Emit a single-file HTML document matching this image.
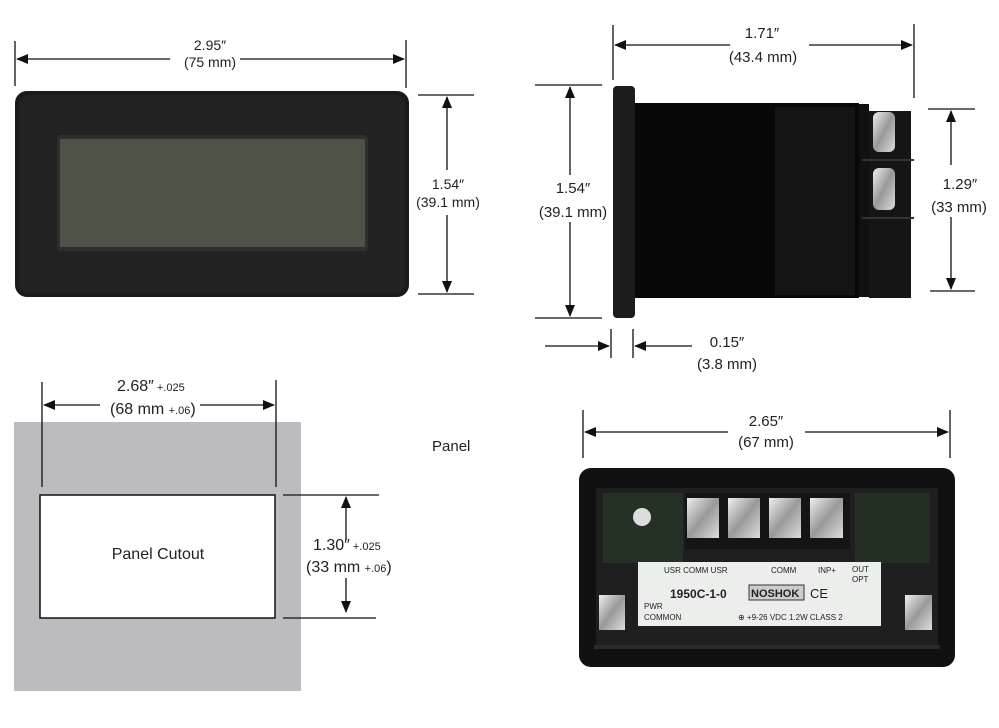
<!DOCTYPE html>
<html><head><meta charset="utf-8"><style>
html,body{margin:0;padding:0;background:#fff;}
svg{display:block;}
text{font-family:"Liberation Sans",sans-serif;fill:#222;}
</style></head><body>
<svg width="999" height="728" viewBox="0 0 999 728" xmlns="http://www.w3.org/2000/svg">
<defs>
<marker id="a" markerWidth="12" markerHeight="10" refX="11" refY="5" orient="auto" markerUnits="userSpaceOnUse"><path d="M0,0 L12,5 L0,10 z" fill="#111"/></marker>
<linearGradient id="scr" x1="0" y1="0" x2="1" y2="1"><stop offset="0" stop-color="#eee"/><stop offset="0.5" stop-color="#999"/><stop offset="1" stop-color="#ddd"/></linearGradient>
</defs>
<g stroke="#111" stroke-width="1.3" fill="none">
<!-- front view dims -->
<line x1="15" y1="41" x2="15" y2="86"/><line x1="406" y1="40" x2="406" y2="88"/>
<line x1="170" y1="59" x2="17" y2="59" marker-end="url(#a)"/><line x1="240" y1="59" x2="404" y2="59" marker-end="url(#a)"/>
<line x1="418" y1="95" x2="474" y2="95"/><line x1="418" y1="294" x2="474" y2="294"/>
<line x1="447" y1="170" x2="447" y2="97" marker-end="url(#a)"/><line x1="447" y1="215" x2="447" y2="292" marker-end="url(#a)"/>
<!-- side view dims -->
<line x1="613" y1="25" x2="613" y2="80"/><line x1="914" y1="24" x2="914" y2="98"/>
<line x1="730" y1="45" x2="615" y2="45" marker-end="url(#a)"/><line x1="809" y1="45" x2="912" y2="45" marker-end="url(#a)"/>
<line x1="535" y1="85" x2="602" y2="85"/><line x1="535" y1="318" x2="602" y2="318"/>
<line x1="570" y1="175" x2="570" y2="87" marker-end="url(#a)"/><line x1="570" y1="222" x2="570" y2="316" marker-end="url(#a)"/>
<line x1="928" y1="109" x2="975" y2="109"/><line x1="930" y1="291" x2="975" y2="291"/>
<line x1="951" y1="165" x2="951" y2="111" marker-end="url(#a)"/><line x1="951" y1="217" x2="951" y2="289" marker-end="url(#a)"/>
<line x1="611" y1="329" x2="611" y2="358"/><line x1="633" y1="329" x2="633" y2="358"/>
<line x1="545" y1="346" x2="609" y2="346" marker-end="url(#a)"/><line x1="692" y1="346" x2="635" y2="346" marker-end="url(#a)"/>
</g>
<!-- front bezel -->
<rect x="15" y="91" width="394" height="206" rx="12" fill="#1b1b1b"/>
<rect x="19" y="95" width="386" height="198" rx="10" fill="#222"/>
<rect x="57" y="135" width="311" height="116" rx="4" fill="#2f2f2f"/>
<rect x="60" y="139" width="305" height="108" fill="#4d5346"/>
<text x="210" y="50" font-size="14" text-anchor="middle">2.95″</text>
<text x="210" y="67" font-size="14" text-anchor="middle">(75 mm)</text>
<text x="448" y="189" font-size="14" text-anchor="middle">1.54″</text>
<text x="448" y="207" font-size="14" text-anchor="middle">(39.1 mm)</text>
<!-- side view -->
<rect x="613" y="86" width="22" height="232" rx="4" fill="#1c1c1c"/>
<rect x="635" y="103" width="224" height="195" fill="#080808"/>
<rect x="775" y="107" width="80" height="188" fill="#141414"/>
<rect x="859" y="104" width="10" height="193" fill="#111"/>
<rect x="869" y="111" width="42" height="187" fill="#151515"/>
<rect x="873" y="112" width="22" height="40" rx="6" fill="url(#scr)"/>
<rect x="873" y="168" width="22" height="42" rx="6" fill="url(#scr)"/>
<line x1="862" y1="160" x2="914" y2="160" stroke="#333" stroke-width="2"/>
<line x1="862" y1="218" x2="914" y2="218" stroke="#333" stroke-width="2"/>
<text x="762" y="38" font-size="15" text-anchor="middle">1.71″</text>
<text x="763" y="62" font-size="15" text-anchor="middle">(43.4 mm)</text>
<text x="573" y="193" font-size="15" text-anchor="middle">1.54″</text>
<text x="573" y="217" font-size="15" text-anchor="middle">(39.1 mm)</text>
<text x="960" y="189" font-size="15" text-anchor="middle">1.29″</text>
<text x="959" y="212" font-size="15" text-anchor="middle">(33 mm)</text>
<text x="727" y="347" font-size="15" text-anchor="middle">0.15″</text>
<text x="727" y="369" font-size="15" text-anchor="middle">(3.8 mm)</text>
<!-- panel -->
<rect x="14" y="422" width="287" height="269" fill="#bcbcc0"/>
<rect x="40" y="495" width="235" height="123" fill="#fff" stroke="#111" stroke-width="1.5"/>
<g stroke="#111" stroke-width="1.3" fill="none">
<line x1="42" y1="382" x2="42" y2="487"/><line x1="276" y1="380" x2="276" y2="487"/>
<line x1="100" y1="405" x2="44" y2="405" marker-end="url(#a)"/><line x1="200" y1="405" x2="274" y2="405" marker-end="url(#a)"/>
<line x1="283" y1="495" x2="379" y2="495"/><line x1="283" y1="618" x2="376" y2="618"/>
<line x1="346" y1="540" x2="346" y2="497" marker-end="url(#a)"/><line x1="346" y1="578" x2="346" y2="612" marker-end="url(#a)"/>
<line x1="583" y1="410" x2="583" y2="458"/><line x1="950" y1="410" x2="950" y2="458"/>
<line x1="728" y1="432" x2="585" y2="432" marker-end="url(#a)"/><line x1="805" y1="432" x2="948" y2="432" marker-end="url(#a)"/>
</g>
<text x="117" y="391" font-size="16">2.68″<tspan font-size="11"> +.025</tspan></text>
<text x="110" y="414" font-size="16">(68 mm <tspan font-size="11">+.06</tspan>)</text>
<text x="158" y="559" font-size="16" text-anchor="middle">Panel Cutout</text>
<text x="313" y="550" font-size="16">1.30″<tspan font-size="11"> +.025</tspan></text>
<text x="306" y="572" font-size="16">(33 mm <tspan font-size="11">+.06</tspan>)</text>
<text x="432" y="451" font-size="15">Panel</text>
<!-- back view -->
<text x="766" y="426" font-size="15" text-anchor="middle">2.65″</text>
<text x="766" y="447" font-size="15" text-anchor="middle">(67 mm)</text>
<rect x="579" y="468" width="376" height="199" rx="12" fill="#111"/>
<rect x="596" y="488" width="342" height="160" fill="#1f1f1f"/>
<rect x="603" y="493" width="80" height="70" fill="#263126"/>
<circle cx="642" cy="517" r="9" fill="#ddd"/>
<rect x="855" y="493" width="75" height="70" fill="#243024"/>
<rect x="685" y="493" width="165" height="56" fill="#151515"/>
<rect x="687" y="498" width="32" height="40" fill="url(#scr)"/>
<rect x="728" y="498" width="32" height="40" fill="url(#scr)"/>
<rect x="769" y="498" width="32" height="40" fill="url(#scr)"/>
<rect x="810" y="498" width="33" height="40" fill="url(#scr)"/>
<rect x="638" y="562" width="243" height="64" fill="#eceeec"/>
<rect x="599" y="595" width="26" height="35" fill="url(#scr)"/>
<rect x="905" y="595" width="27" height="35" fill="url(#scr)"/>
<g font-size="8" fill="#444">
<text x="664" y="573">USR  COMM  USR</text>
<text x="771" y="573">COMM</text>
<text x="818" y="573">INP+</text>
<text x="852" y="572">OUT</text><text x="852" y="582">OPT</text>
<text x="644" y="609">PWR</text><text x="644" y="620">COMMON</text>
<text x="738" y="620">⊕ +9-26 VDC  1.2W CLASS 2</text>
</g>
<text x="670" y="598" font-size="12" font-weight="bold" fill="#333">1950C-1-0</text>
<rect x="749" y="585" width="55" height="15" fill="#ccc" stroke="#333"/>
<text x="751" y="597" font-size="11" font-weight="bold" fill="#222">NOSHOK</text>
<text x="810" y="598" font-size="13" fill="#333">CE</text>
<rect x="594" y="645" width="346" height="4" fill="#2a2a2a"/>
</svg>
</body></html>
